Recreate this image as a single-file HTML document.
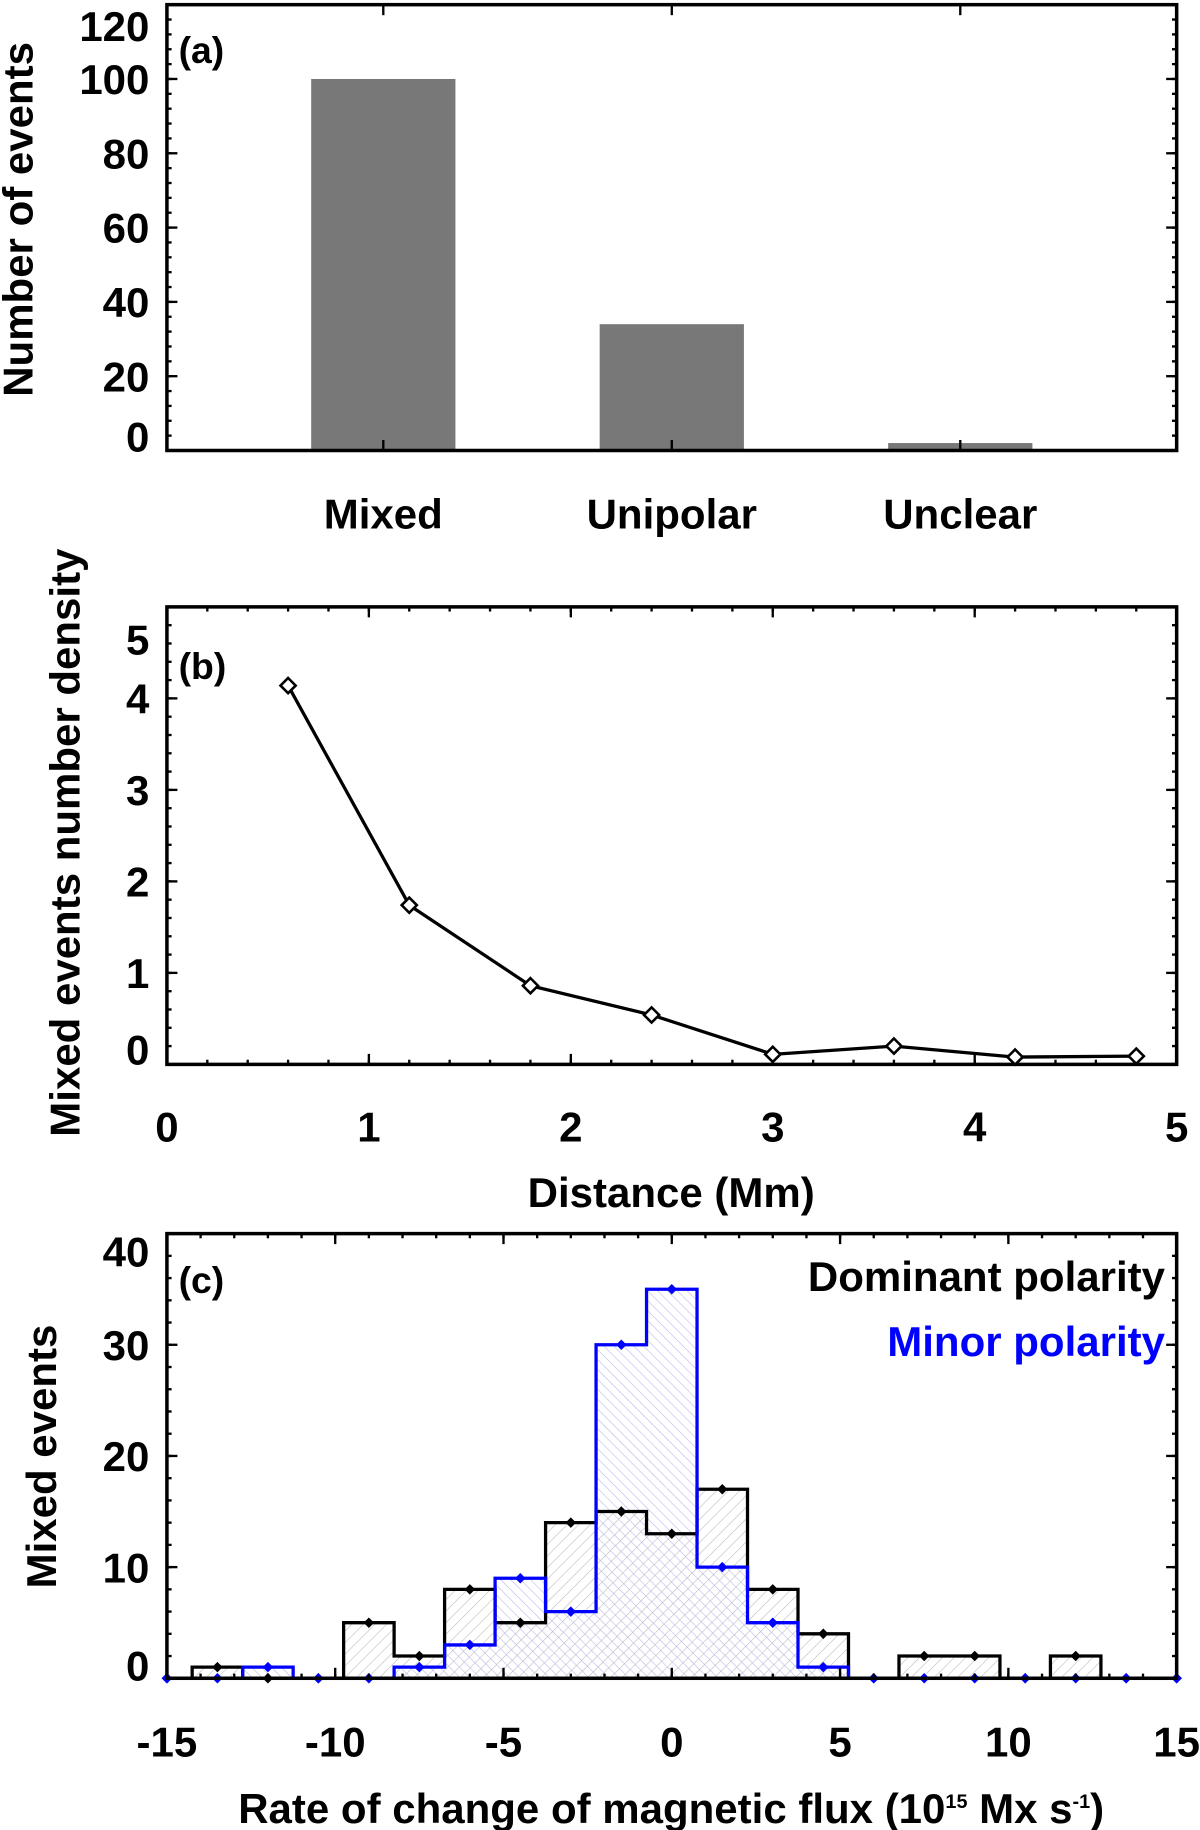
<!DOCTYPE html>
<html><head><meta charset="utf-8"><style>
html,body{margin:0;padding:0;background:#fff;}
svg{display:block;}
text{font-family:"Liberation Sans",Arial,sans-serif;font-weight:bold;}
</style></head><body>
<svg id="fig" xmlns="http://www.w3.org/2000/svg" width="1200" height="1830" viewBox="0 0 1028 1568" preserveAspectRatio="none">
<defs>
<pattern id="hatchBlack" patternUnits="userSpaceOnUse" width="7" height="7" patternTransform="rotate(45)"><line x1="0" y1="0" x2="0" y2="7" stroke="#bbb" stroke-width="1"/></pattern>
<pattern id="hatchBlue" patternUnits="userSpaceOnUse" width="6" height="6" patternTransform="rotate(-45)"><line x1="0" y1="0" x2="0" y2="6" stroke="#b8b8f0" stroke-width="1"/></pattern>
</defs>
<g id="pa"></g>
<g id="pb"></g>
<g id="pc"></g>
</svg>
<script>
// Panel (a) data
const catLabels = ["Mixed", "Unipolar", "Unclear"];
const catCounts = [100, 34, 2];
const aTicks = [0, 20, 40, 60, 80, 100, 120];
// Panel (b) data
const distX = [0.6, 1.2, 1.8, 2.4, 3.0, 3.6, 4.2, 4.8];
const distDensity = [4.14, 1.74, 0.86, 0.54, 0.11, 0.2, 0.08, 0.09];
const bXTicks = [0, 1, 2, 3, 4, 5];
const bYTicks = [0, 1, 2, 3, 4, 5];
// Panel (c) data
const rateBins = [-15, -13.5, -12, -10.5, -9, -7.5, -6, -4.5, -3, -1.5, 0, 1.5, 3, 4.5, 6, 7.5, 9, 10.5, 12, 13.5, 15];
const dominantCounts = [0, 1, 0, 0, 5, 2, 8, 5, 14, 15, 13, 17, 8, 4, 0, 2, 2, 0, 2, 0, 0];
const minorCounts = [0, 0, 1, 0, 0, 1, 3, 9, 6, 30, 35, 10, 5, 1, 0, 0, 0, 0, 0, 0, 0];
const cXTicks = [-15, -10, -5, 0, 5, 10, 15];
const cYTicks = [0, 10, 20, 30, 40];

const NS = "http://www.w3.org/2000/svg";
const FS = 36;
function mk(tag, attrs, parent, txt) {
  const e = document.createElementNS(NS, tag);
  for (const k in attrs) e.setAttribute(k, attrs[k]);
  if (txt !== undefined) e.textContent = txt;
  parent.appendChild(e);
  return e;
}
const L = 143, R = 1008;

function frame(g, top, bot, name) {
  const r = mk("rect", {x: L, y: top, width: R - L, height: bot - top, fill: "none", stroke: "#000", "stroke-width": 3}, g);
  
  
}
function yTicksDraw(g, ys, len) {
  ys.forEach(y => {
    const a = mk("line", {x1: L, x2: L + len, y1: y, y2: y, stroke: "#000", "stroke-width": 2}, g);
    
    
    const b = mk("line", {x1: R, x2: R - len, y1: y, y2: y, stroke: "#000", "stroke-width": 2}, g);
    
    
  });
}
function xTicksDraw(g, xs, top, bot, len) {
  xs.forEach(x => {
    const a = mk("line", {x1: x, x2: x, y1: bot, y2: bot - len, stroke: "#000", "stroke-width": 2}, g);
    
    
    const b = mk("line", {x1: x, x2: x, y1: top, y2: top + len, stroke: "#000", "stroke-width": 2}, g);
    
    
  });
}
function label(g, x, y, s, anchor, name, size, color) {
  const t = mk("text", {x: x, y: y, "text-anchor": anchor, "font-size": size || FS, style: "fill:" + (color || "#000")}, g, s);
  
  
  return t;
}
function ytitle(g, x, y, s, name) {
  const t = mk("text", {x: 0, y: 0, "text-anchor": "middle", "font-size": FS, style: "fill:#000", transform: `translate(${x},${y}) rotate(-90)`}, g, s);
  
  
}

// ---------- Panel A ----------
(function () {
  const g = document.getElementById("pa");
  const top = 4, bot = 386, yMax = 120;
  const xMin = -0.75, xMax = 2.75;
  const xs = i => L + (i - xMin) / (xMax - xMin) * (R - L);
  const ys = v => bot - v / yMax * (bot - top);
  catCounts.forEach((v, i) => {
    const w = 0.5 / (xMax - xMin) * (R - L);
    const r = mk("rect", {x: xs(i) - w / 2, y: ys(v), width: w, height: bot - ys(v), fill: "#787878"}, g);
    
    
    label(g, xs(i), 453, catLabels[i], "middle", 'x-label-' + catLabels[i].toLowerCase());
  });
  frame(g, top, bot, 'panel-a-frame');
  const minor = [];
  for (let v = 0; v <= yMax; v += 4) minor.push(ys(v));
  yTicksDraw(g, minor, 4);
  yTicksDraw(g, aTicks.map(ys), 9);
  xTicksDraw(g, catCounts.map((v, i) => xs(i)), top, bot, 9);
  aTicks.forEach((v, i) => {
    let y = ys(v) + 13;
    if (i === 0) y = 387;
    if (i === aTicks.length - 1) y = 35;
    label(g, 128, y, String(v), "end", 'y-tick-label');
  });
  label(g, 153, 54, "(a)", "start", 'panel-label-a', 32);
  ytitle(g, 28, 188, "Number of events", 'y-axis-title-a');
})();

// ---------- Panel B ----------
(function () {
  const g = document.getElementById("pb");
  const top = 520, bot = 912;
  const xs = v => L + v / 5 * (R - L);
  const ys = v => bot - v / 5 * (bot - top);
  frame(g, top, bot, 'panel-b-frame');
  const mx = [], my = [];
  for (let v = 0; v <= 5.001; v += 0.2) { mx.push(xs(v)); my.push(ys(v)); }
  yTicksDraw(g, my, 4); xTicksDraw(g, mx, top, bot, 4);
  yTicksDraw(g, bYTicks.map(ys), 9); xTicksDraw(g, bXTicks.map(xs), top, bot, 9);
  const d = distX.map((x, i) => (i ? "L" : "M") + xs(x) + "," + ys(distDensity[i])).join(" ");
  const p = mk("path", {d: d, fill: "none", stroke: "#000", "stroke-width": 2.8}, g);
  
  
  distX.forEach((x, i) => {
    const cx = xs(x), cy = ys(distDensity[i]), s = 6.5;
    const m = mk("path", {d: `M${cx},${cy - s} L${cx + s},${cy} L${cx},${cy + s} L${cx - s},${cy} Z`, fill: "#fff", stroke: "#000", "stroke-width": 2.2}, g);
    
    
  });
  bYTicks.forEach((v, i) => {
    let y = ys(v) + 13;
    if (i === 0) y = 912;
    if (i === bYTicks.length - 1) y = 561;
    label(g, 128, y, String(v), "end", 'y-tick-label');
  });
  bXTicks.forEach(v => label(g, xs(v), 978, String(v), "middle", 'x-tick-label'));
  label(g, 153, 582, "(b)", "start", 'panel-label-b', 32);
  label(g, 575, 1034, "Distance (Mm)", "middle", 'x-axis-title-b');
  ytitle(g, 68, 722, "Mixed events number density", 'y-axis-title-b');
})();

// ---------- Panel C ----------
(function () {
  const g = document.getElementById("pc");
  const top = 1057, bot = 1438, yMax = 40;
  const xs = v => L + (v + 15) / 30 * (R - L);
  const ys = v => bot - v / yMax * (bot - top);
  const hw = 0.75;
  function stepPath(vals) {
    let d = "";
    rateBins.forEach((c, i) => {
      const x0 = Math.max(xs(c - hw), L), x1 = Math.min(xs(c + hw), R), y = ys(vals[i]);
      d += (i ? "L" : "M") + x0 + "," + y + " L" + x1 + "," + y + " ";
    });
    return d;
  }
  function fillPath(vals) {
    return stepPath(vals) + `L${R},${bot} L${L},${bot} Z`;
  }
  const fb = mk("path", {d: fillPath(dominantCounts), fill: "url(#hatchBlack)", stroke: "none"}, g);
  
  
  const fm = mk("path", {d: fillPath(minorCounts), fill: "url(#hatchBlue)", stroke: "none"}, g);
  
  
  const lb = mk("path", {d: stepPath(dominantCounts), fill: "none", stroke: "#000", "stroke-width": 2.8}, g);
  
  
  const lm = mk("path", {d: stepPath(minorCounts), fill: "none", stroke: "#0000ff", "stroke-width": 2.8}, g);
  
  
  function markers(vals, col, name) {
    rateBins.forEach((c, i) => {
      const cx = xs(c), cy = ys(vals[i]), s = 4.5;
      const m = mk("path", {d: `M${cx},${cy - s} L${cx + s},${cy} L${cx},${cy + s} L${cx - s},${cy} Z`, fill: col}, g);
      
      
    });
  }
  markers(dominantCounts, "#000", 'dominant-point');
  markers(minorCounts, "#0000ff", 'minor-point');
  frame(g, top, bot, 'panel-c-frame');
  const mx = [], my = [];
  for (let v = -15; v <= 15; v += 1) mx.push(xs(v));
  for (let v = 0; v <= yMax; v += 2) my.push(ys(v));
  yTicksDraw(g, my, 4); xTicksDraw(g, mx, top, bot, 4);
  yTicksDraw(g, cYTicks.map(ys), 9); xTicksDraw(g, cXTicks.map(xs), top, bot, 9);
  cYTicks.forEach((v, i) => {
    let y = ys(v) + 13;
    if (i === 0) y = 1440;
    if (i === cYTicks.length - 1) y = 1085;
    label(g, 128, y, String(v), "end", 'y-tick-label');
  });
  cXTicks.forEach(v => label(g, xs(v), 1505, String(v), "middle", 'x-tick-label'));
  label(g, 153, 1108, "(c)", "start", 'panel-label-c', 32);
  label(g, 998, 1106, "Dominant polarity", "end", 'legend-dominant');
  label(g, 998, 1162, "Minor polarity", "end", 'legend-minor', FS, "#0000ff");
  const t = label(g, 575, 1562, "", "middle", 'x-axis-title-c');
  t.innerHTML = 'Rate of change of magnetic flux (10<tspan dy="-13" font-size="17">15</tspan><tspan dy="13"> Mx s</tspan><tspan dy="-13" font-size="17">-1</tspan><tspan dy="13">)</tspan>';
  ytitle(g, 48, 1248, "Mixed events", 'y-axis-title-c');
})();
</script>
</body></html>
